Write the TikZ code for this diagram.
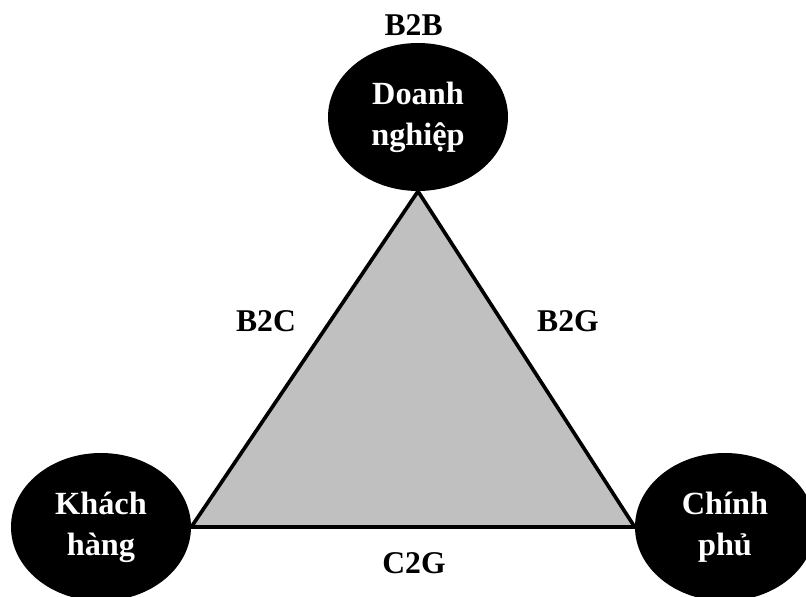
\documentclass[tikz,border=0pt]{standalone}
\usepackage{fontspec}
\setmainfont{Liberation Serif}
\usetikzlibrary{shapes.geometric,backgrounds}

\begin{document}
\begin{tikzpicture}[
   actor/.style={ellipse,fill=black,minimum width=4.5cm,minimum height=3.7cm,inner sep=0pt,
      text=white,align=center,font=\fontsize{23}{29}\selectfont\bfseries},
   kind/.style={font=\fontsize{22.5}{26}\selectfont\bfseries}]
   \clip (0,0) rectangle (20.15,14.925);

   \node[actor] (dn) at (10.45,12) {Doanh\\nghiệp};
   \node[actor] (kh) at (2.525,1.75) {Khách\\hàng};
   \node[actor] (cp) at (18.125,1.75) {Chính\\phủ};

   \begin{scope}[on background layer]
   \filldraw[fill={rgb,255:red,192;green,192;blue,192},line width=2.6pt,line join=miter]
      (dn.south) -- (kh.east) -- (cp.west) -- cycle;
   \end{scope}

   \node[kind] (b2b) at (10.34,14.3) {B2B};
   \node[kind] (b2c) at (6.65,6.9) {B2C};
   \node[kind] (b2g) at (14.2,6.9) {B2G};
   \node[kind] (c2g) at (10.35,0.85) {C2G};
\end{tikzpicture}
\end{document}
